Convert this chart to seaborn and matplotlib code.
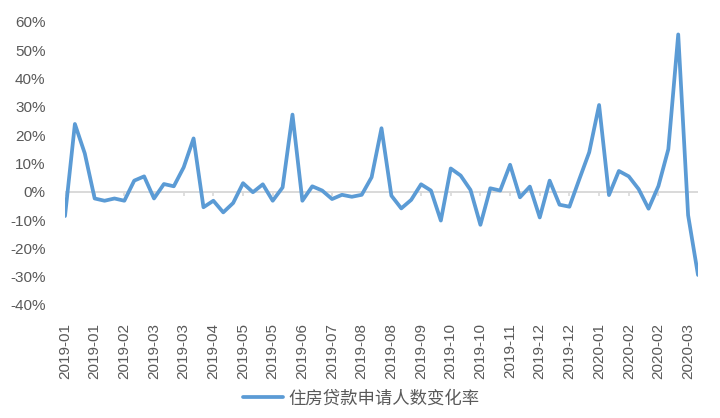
import matplotlib
matplotlib.use("Agg")
import matplotlib.pyplot as plt
import seaborn as sns
import pandas as pd

# Weekly change rate of housing-loan applicants (%), 65 weeks
values = [-8.6, 23.9, 13.5, -2.4, -3.2, -2.4, -3.2, 3.9, 5.4, -2.4,
          2.7, 1.9, 8.6, 18.8, -5.5, -3.2, -7.3, -4.0, 3.0, -0.2,
          2.6, -3.2, 1.5, 27.2, -3.2, 1.9, 0.4, -2.6, -1.1, -1.8,
          -1.1, 5.1, 22.4, -1.4, -5.9, -2.9, 2.6, 0.4, -10.2, 8.2,
          5.7, 0.6, -11.7, 1.2, 0.4, 9.5, -2.0, 1.8, -9.1, 3.9,
          -4.6, -5.3, 4.4, 13.9, 30.6, -1.2, 7.3, 5.4, 0.9, -6.0,
          2.0, 15.0, 55.5, -8.3, -29.4]
tick_labels = ["2019-01", "2019-01", "2019-02", "2019-03", "2019-03", "2019-04",
               "2019-05", "2019-05", "2019-06", "2019-07", "2019-08", "2019-08",
               "2019-09", "2019-10", "2019-10", "2019-11", "2019-12", "2019-12",
               "2020-01", "2020-02", "2020-02", "2020-03"]
y_ticks = [-40, -30, -20, -10, 0, 10, 20, 30, 40, 50, 60]
series_name = "住房贷款申请人数变化率"

df = pd.DataFrame({"idx": range(len(values)), "val": values, "series": series_name})

sns.set_theme(style="white")
plt.rcParams["font.family"] = ["Liberation Sans", "Noto Sans CJK SC", "DejaVu Sans"]

fig = plt.figure(figsize=(7.2, 4.18), dpi=100)
ax = fig.add_axes([65 / 720, 1 - 305 / 418, (698 - 65) / 720, (305 - 21.7) / 418])

blue = "#5B9BD5"
grey_txt = "#595959"

ax.axhline(0, color="#D9D9D9", lw=1.4, zorder=1)
tick_pos = list(range(0, len(values), 3))
ax.vlines(tick_pos, -1.5, 0, color="#D9D9D9", lw=1.2, zorder=1)

sns.lineplot(data=df, x="idx", y="val", hue="series", palette=[blue],
             linewidth=2.7, ax=ax, zorder=3)
for ln in ax.get_lines():
    if ln.get_color() == blue or ln.get_linewidth() > 2:
        ln.set_solid_joinstyle("round")
        ln.set_solid_capstyle("round")

ax.set_xlim(0, len(values) - 1)
ax.set_ylim(-40, 60)
ax.set_yticks(y_ticks)
ax.set_yticklabels([f"{v}%" for v in y_ticks])
ax.set_xticks(tick_pos)
ax.set_xticklabels(tick_labels, rotation=90)
ax.tick_params(axis="x", length=0, pad=13, labelsize=11, labelcolor=grey_txt)
ax.tick_params(axis="y", length=0, pad=14, labelsize=11, labelcolor=grey_txt)
for lab in ax.get_yticklabels():
    lab.set_horizontalalignment("right")
for s in ax.spines.values():
    s.set_visible(False)
ax.set_xlabel("")
ax.set_ylabel("")

leg = ax.legend(loc="center", bbox_to_anchor=(0.502, 0.048), bbox_transform=fig.transFigure,
                frameon=False, fontsize=12.5, handlelength=2.3, handletextpad=0.3)
for t in leg.get_texts():
    t.set_color(grey_txt)
for h in leg.get_lines():
    h.set_linewidth(2.7)

fig.savefig("out.png", dpi=100)
